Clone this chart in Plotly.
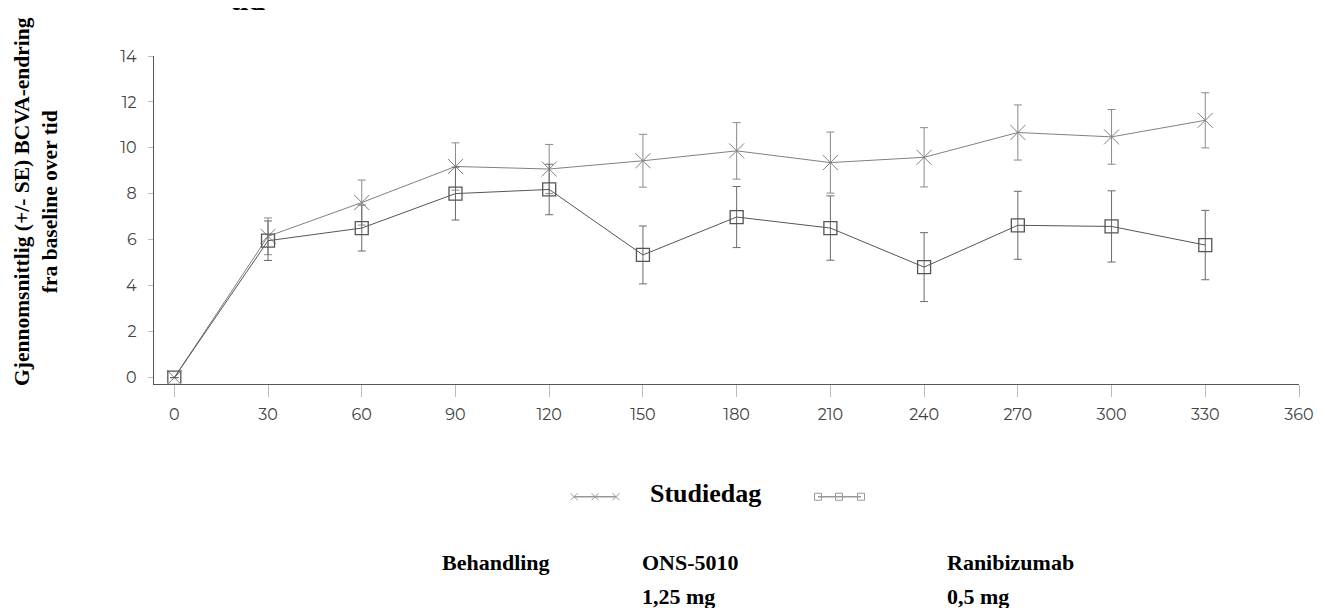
import plotly.graph_objects as go

# ---- data ----
days = [0, 30, 60, 90, 120, 150, 180, 210, 240, 270, 300, 330]
ons_mean = [0.0, 6.15, 7.62, 9.19, 9.08, 9.44, 9.87, 9.36, 9.59, 10.67, 10.48, 11.20]
ons_se = [0.0, 0.80, 0.98, 1.03, 1.07, 1.15, 1.23, 1.33, 1.29, 1.20, 1.19, 1.20]
ran_mean = [0.0, 5.96, 6.51, 8.01, 8.19, 5.34, 6.99, 6.51, 4.81, 6.63, 6.58, 5.77]
ran_se = [0.0, 0.86, 1.00, 1.15, 1.10, 1.26, 1.33, 1.40, 1.50, 1.48, 1.55, 1.51]
x_ticks = [0, 30, 60, 90, 120, 150, 180, 210, 240, 270, 300, 330, 360]
y_ticks = [0, 2, 4, 6, 8, 10, 12, 14]

# page body has an 8px margin; figure is sized to fit the 1325x608 window
OFF = 8
W, H = 1325 - OFF, 608 - OFF
ML = 154 - OFF          # y-axis line at window x=154
MR = W - (1299 - OFF)   # plot right edge at window x=1299
MT = 56 - OFF           # top of plot at window y=56
MB = 8
plot_h = H - MT - MB
plot_w = W - ML - MR
y_dom0 = (H - MB - (386 - OFF)) / plot_h   # x-axis line at window y=386

def py(P):  # window pixel y -> paper
    return (H - MB - (P - OFF)) / plot_h

def px(P):  # window pixel x -> paper
    return (P - OFF - ML) / plot_w

fig = go.Figure()

fig.add_trace(go.Scatter(
    x=days, y=ons_mean, mode="lines+markers", name="ONS-5010 1,25 mg",
    line=dict(color="#808080", width=1),
    marker=dict(symbol="x-thin-open", size=15, line=dict(color="#6a6a6a", width=1)),
    error_y=dict(type="data", array=ons_se, visible=True, color="#8a8a8a", thickness=1, width=4),
    showlegend=False,
))
fig.add_trace(go.Scatter(
    x=days, y=ran_mean, mode="lines+markers", name="Ranibizumab 0,5 mg",
    line=dict(color="#555555", width=1),
    marker=dict(symbol="square-open", size=13, line=dict(color="#333333", width=1.3)),
    error_y=dict(type="data", array=ran_se, visible=True, color="#6a6a6a", thickness=1, width=4),
    showlegend=False,
))

# legend key samples on a helper axis whose scale is window pixels
fig.add_trace(go.Scatter(
    x=[574, 595, 616], y=[0.5, 0.5, 0.5], xaxis="x2", yaxis="y2", mode="lines+markers",
    line=dict(color="#999999", width=1.5),
    marker=dict(symbol="x-thin-open", size=7, line=dict(color="#666666", width=1)),
    showlegend=False, hoverinfo="skip",
))
fig.add_trace(go.Scatter(
    x=[818, 839, 861], y=[0.5, 0.5, 0.5], xaxis="x2", yaxis="y2", mode="lines+markers",
    line=dict(color="#999999", width=1.5),
    marker=dict(symbol="square-open", size=7, line=dict(color="#777777", width=1)),
    showlegend=False, hoverinfo="skip",
))

tick_font = dict(family="Montserrat, Lato, 'Open Sans', sans-serif", size=16, color="#444444")
serif = "Liberation Serif, Times New Roman, serif"
serif_bold = dict(family=serif, size=22, color="#000000")

fig.update_layout(
    width=W, height=H,
    margin=dict(l=ML, r=MR, t=MT, b=MB),
    paper_bgcolor="white", plot_bgcolor="white",
    xaxis=dict(
        range=[-6.5, 360], tickmode="array", tickvals=x_ticks, ticktext=[str(t) for t in x_ticks],
        showgrid=False, zeroline=False, showline=True, linecolor="#555555", linewidth=1.3,
        ticks="outside", ticklen=12, tickcolor="#bbbbbb", tickwidth=1,
        tickfont=tick_font, ticklabelstandoff=4, anchor="y",
    ),
    yaxis=dict(
        range=[-0.26, 14], domain=[y_dom0, 1], tickmode="array", tickvals=y_ticks,
        showgrid=False, zeroline=False, showline=True, linecolor="#555555", linewidth=1.3,
        ticks="outside", ticklen=5, tickcolor="#bbbbbb", tickwidth=1,
        tickfont=tick_font, ticklabelstandoff=8, anchor="x",
    ),
    xaxis2=dict(domain=[0, 1], range=[ML + OFF, ML + OFF + plot_w], visible=False, anchor="y2"),
    yaxis2=dict(domain=[py(507), py(493)], range=[0, 1], visible=False, anchor="x2"),
)

annotations = [
    dict(text="tid", x=px(228), y=py(18), xanchor="left", yanchor="bottom",
         font=dict(family=serif, size=30, color="#000000")),
    dict(text="Studiedag", x=px(705), y=py(497), xanchor="center", yanchor="middle",
         font=dict(family=serif, size=26, color="#000000")),
    dict(text="Behandling", x=px(440), y=py(566), xanchor="left", yanchor="middle", font=serif_bold),
    dict(text="ONS-5010", x=px(640), y=py(566), xanchor="left", yanchor="middle", font=serif_bold),
    dict(text="1,25 mg", x=px(640), y=py(600), xanchor="left", yanchor="middle", font=serif_bold),
    dict(text="Ranibizumab", x=px(945), y=py(566), xanchor="left", yanchor="middle", font=serif_bold),
    dict(text="0,5 mg", x=px(945), y=py(600), xanchor="left", yanchor="middle", font=serif_bold),
    dict(text="Gjennomsnittlig (+/- SE) BCVA-endring<br>fra baseline over tid",
         x=px(36), y=py(203), xanchor="center", yanchor="middle", textangle=-90,
         font=dict(family=serif, size=21.5, color="#000000")),
]
for a in annotations:
    a.update(xref="paper", yref="paper", showarrow=False)
    a["text"] = "<b>" + a["text"] + "</b>"
fig.update_layout(annotations=annotations)

fig.write_html("out.html")
